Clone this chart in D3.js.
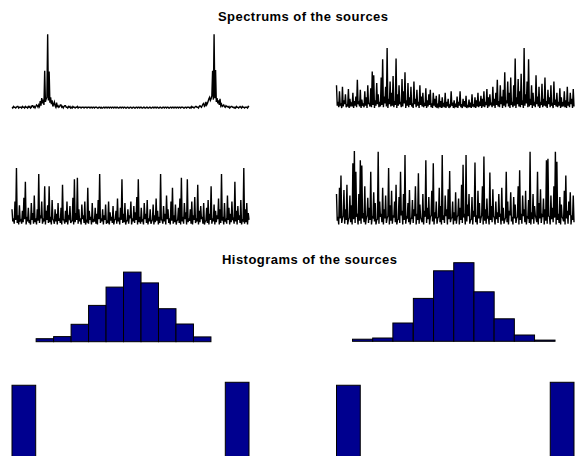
<!DOCTYPE html>
<html>
<head>
<meta charset="utf-8">
<script src="https://d3js.org/d3.v7.min.js"></script>
<style>
  body { margin: 0; background: #fff; }
  svg { display: block; }
  .title { font-family: "Liberation Sans", Arial, sans-serif; font-weight: bold; font-size: 13px; }
</style>
</head>
<body>
<div id="chart"></div>
<script>
// spectrum magnitudes, in % of the panel height
var spec1 = [1,0, 2,1, 1,0, 1,2, 2,0, 1,1, 1,0, 2,1, 1,0, 2,1,
  1,0, 2,1, 2,0, 1,3, 3,1, 2,0, 2,4, 3,1, 4,2, 9,3,
  13,6, 11,4, 49,8, 12,14, 97,10, 48,7, 14,5, 10,2, 5,8, 3,1,
  7,2, 3,1, 2,4, 4,1, 2,0, 2,3, 3,1, 1,0, 2,1, 2,0,
  1,0, 2,1, 1,0, 1,1, 2,0, 1,1, 1,0, 1,1, 1,0, 1,1,
  1,0, 1,1, 1,0, 1,1, 0,1, 1,0, 1,1, 1,0, 0,1, 1,0,
  1,0, 0,1, 1,0, 1,1, 0,1, 1,0, 1,1, 0,1, 1,0, 1,1,
  0,1, 1,0, 0,1, 1,0, 1,1, 0,1, 1,0, 0,1, 1,0, 0,1,
  1,0, 0,1, 1,0, 0,1, 1,0, 1,1, 0,1, 1,0, 0,1, 1,0,
  0,1, 1,0, 0,1, 1,0, 0,1, 1,0, 1,1, 0,1, 1,0, 0,1,
  1,0, 0,1, 1,0, 1,1, 0,1, 1,0, 0,1, 1,0, 1,1, 0,1,
  1,0, 1,1, 0,1, 1,0, 1,1, 1,0, 0,1, 1,0, 1,1, 1,0,
  1,0, 2,1, 1,0, 1,2, 2,1, 1,0, 2,3, 2,1, 3,5, 6,2,
  3,8, 4,6, 9,12, 14,10, 12,16, 49,11, 97,13, 50,8, 13,6, 10,4,
  12,3, 5,2, 3,4, 2,1, 3,2, 2,1, 2,0, 1,2, 2,1, 1,0,
  1,0, 2,1, 1,0, 1,2, 1,0, 2,1, 1,0, 1,1, 1,0, 2,1];

var spec2 = [30,3, 8,1, 22,4, 5,0, 28,2, 10,5, 18,1, 4,3, 25,0, 12,4,
  6,2, 20,0, 9,3, 15,1, 37,5, 7,2, 24,0, 11,4, 5,1, 22,3,
  14,0, 30,6, 6,2, 26,1, 48,4, 43,0, 10,3, 33,5, 18,1, 8,2,
  40,4, 64,1, 15,6, 28,2, 79,0, 12,5, 35,2, 20,3, 42,1, 9,4,
  65,0, 18,3, 30,5, 8,1, 38,2, 22,6, 47,0, 10,3, 33,1, 14,4,
  28,2, 6,0, 35,5, 12,1, 24,3, 8,0, 30,4, 15,2, 20,1, 5,3,
  26,0, 10,2, 18,4, 24,1, 6,0, 20,3, 12,1, 16,0, 4,2, 18,1,
  9,0, 14,3, 5,1, 20,0, 8,2, 12,0, 3,1, 22,3, 7,0, 10,2,
  4,1, 15,0, 8,3, 22,1, 5,0, 12,2, 9,1, 16,0, 3,2, 11,1,
  7,0, 18,3, 4,1, 14,0, 10,2, 20,1, 6,3, 16,0, 12,2, 22,1,
  8,4, 25,0, 14,2, 18,5, 6,1, 28,3, 12,0, 20,4, 37,2, 9,1,
  30,5, 15,0, 24,3, 47,1, 10,6, 35,2, 20,0, 40,4, 8,1, 30,3,
  65,0, 14,5, 38,2, 22,1, 45,4, 10,0, 79,3, 18,6, 35,1, 64,2,
  12,4, 30,0, 20,3, 8,1, 43,5, 15,2, 28,0, 6,4, 32,1, 12,3,
  40,2, 9,0, 24,5, 14,1, 30,3, 5,0, 35,4, 11,2, 20,1, 8,3,
  26,0, 14,2, 6,4, 22,1, 10,0, 28,3, 8,1, 20,5, 12,0, 25,2];

var spec3 = [20,4, 8,1, 30,6, 74,2, 12,0, 25,5, 6,1, 18,3, 35,7, 56,0,
  10,4, 22,2, 4,0, 28,6, 15,1, 38,3, 8,0, 20,5, 66,2, 12,8,
  30,1, 6,4, 50,0, 18,6, 25,2, 50,3, 10,0, 32,7, 5,1, 20,4,
  14,0, 28,5, 8,2, 22,0, 52,6, 6,1, 18,3, 30,0, 10,8, 24,2,
  4,5, 35,0, 59,3, 15,6, 61,1, 20,4, 8,0, 26,7, 12,2, 30,0,
  5,4, 48,1, 18,6, 10,0, 28,3, 6,5, 22,1, 14,0, 32,7, 66,2,
  8,4, 20,0, 12,6, 26,1, 4,3, 30,0, 16,5, 10,2, 24,0, 6,7,
  18,1, 34,4, 9,0, 22,6, 59,2, 14,3, 28,0, 5,5, 20,1, 12,8,
  30,0, 8,4, 24,2, 16,6, 36,0, 59,3, 10,1, 22,5, 6,0, 28,7,
  14,2, 32,0, 8,4, 20,1, 4,6, 26,0, 12,3, 34,5, 18,0, 10,2,
  66,6, 6,1, 24,4, 14,0, 38,7, 20,2, 8,0, 30,5, 48,1, 12,3,
  26,0, 5,6, 22,2, 34,0, 61,4, 10,1, 28,7, 16,0, 59,3, 8,5,
  20,1, 30,0, 12,6, 36,2, 6,4, 52,0, 18,3, 24,7, 10,1, 28,0,
  4,5, 22,2, 32,0, 14,6, 50,1, 8,4, 26,0, 18,3, 12,7, 34,0,
  20,2, 66,5, 10,0, 28,4, 6,1, 38,6, 22,0, 14,3, 30,7, 8,1,
  56,4, 18,0, 24,6, 12,2, 32,0, 6,5, 74,1, 20,3, 28,0, 15,6];

var spec4 = [40,5, 10,0, 48,8, 64,2, 8,11, 45,1, 20,6, 52,0, 6,9, 38,3,
  25,0, 80,7, 96,2, 69,10, 12,0, 40,5, 84,1, 77,8, 15,3, 50,0,
  8,12, 35,2, 22,6, 69,0, 10,9, 42,4, 28,0, 6,7, 95,1, 30,10,
  14,3, 48,0, 20,8, 38,2, 8,11, 74,0, 25,5, 44,1, 12,9, 30,3,
  52,0, 6,7, 36,2, 69,12, 18,0, 40,6, 91,1, 10,9, 28,3, 45,0,
  8,8, 32,2, 20,11, 50,0, 14,6, 67,1, 26,9, 6,3, 40,0, 18,10,
  84,2, 22,7, 36,0, 10,12, 44,4, 80,0, 16,8, 30,1, 8,10, 48,3,
  24,0, 91,6, 12,2, 38,11, 20,0, 46,7, 70,3, 8,9, 30,0, 16,5,
  42,1, 10,12, 34,0, 22,6, 52,2, 78,9, 14,0, 91,4, 26,11, 40,1,
  6,7, 36,0, 18,10, 81,3, 12,0, 44,8, 28,2, 8,12, 50,0, 89,5,
  20,1, 34,9, 10,0, 68,6, 24,3, 46,11, 8,0, 30,7, 16,2, 40,10,
  12,0, 48,5, 22,1, 6,9, 69,3, 30,0, 18,12, 42,4, 10,0, 36,8,
  26,2, 8,10, 50,0, 71,6, 14,1, 38,11, 20,3, 44,0, 10,9, 32,2,
  95,0, 16,7, 40,1, 24,12, 8,3, 69,0, 28,8, 46,2, 12,10, 34,0,
  20,5, 84,1, 86,11, 10,0, 38,7, 22,3, 50,9, 95,0, 82,6, 14,2,
  36,0, 26,10, 8,4, 44,0, 64,8, 18,1, 30,12, 42,0, 12,6, 38,3];

// histograms: bin centres and counts
var bins1   = [-2.89,-2.30,-1.71,-1.12,-0.53,0.06,0.65,1.24,1.83,2.42];
var counts1 = [10,17,58,121,182,232,196,110,59,16];
var bins2   = [-3.12,-2.44,-1.76,-1.07,-0.39,0.29,0.97,1.65,2.33,3.02];
var counts2 = [7,11,61,143,235,262,165,75,21,4];
var bins3   = [-0.9,-0.7,-0.5,-0.3,-0.1,0.1,0.3,0.5,0.7,0.9];
var counts3 = [490,0,0,0,0,0,0,0,0,510];
var bins4   = [-0.9,-0.7,-0.5,-0.3,-0.1,0.1,0.3,0.5,0.7,0.9];
var counts4 = [490,0,0,0,0,0,0,0,0,510];

var titles = ["Spectrums of the sources", "Histograms of the sources"];

var W = 583, H = 456;

var svg = d3.select("#chart").append("svg")
  .attr("width", W)
  .attr("height", H);

svg.append("text")
  .attr("class", "title")
  .attr("x", 303)
  .attr("y", 21)
  .attr("text-anchor", "middle")
  .attr("textLength", 170)
  .attr("lengthAdjust", "spacing")
  .text(titles[0]);

svg.append("text")
  .attr("class", "title")
  .attr("x", 309.5)
  .attr("y", 264)
  .attr("text-anchor", "middle")
  .attr("textLength", 175)
  .attr("lengthAdjust", "spacing")
  .text(titles[1]);

// axes boxes
var cols = [[12, 249], [336.5, 574]];
var specRows = [[108, 32], [224.5, 148]];

var spectra = [
  {data: spec1, col: 0, row: 0},
  {data: spec2, col: 1, row: 0},
  {data: spec3, col: 0, row: 1},
  {data: spec4, col: 1, row: 1}
];

spectra.forEach(function(p) {
  var x = d3.scaleLinear()
    .domain([0, p.data.length - 1])
    .range(cols[p.col]);
  var y = d3.scaleLinear()
    .domain([0, 100])
    .range(specRows[p.row]);

  var line = d3.line()
    .x(function(d, i) { return x(i); })
    .y(function(d) { return y(d); });

  svg.append("path")
    .datum(p.data)
    .attr("d", line)
    .attr("fill", "none")
    .attr("stroke", "#000")
    .attr("stroke-width", 1.4);
});

var hists = [
  {bins: bins1, counts: counts1, col: 0, xd: [-4, 4], yd: [0, 270], base: 341.7, h: 81, w: 0.591},
  {bins: bins2, counts: counts2, col: 1, xd: [-4, 4], yd: [0, 270], base: 341.3, h: 81, w: 0.682},
  {bins: bins3, counts: counts3, col: 0, xd: [-1, 1], yd: [0, 520], base: 458, h: 77.2, w: 0.2},
  {bins: bins4, counts: counts4, col: 1, xd: [-1, 1], yd: [0, 520], base: 458, h: 77.2, w: 0.2}
];

hists.forEach(function(p) {
  var x = d3.scaleLinear()
    .domain(p.xd)
    .range(cols[p.col]);
  var y = d3.scaleLinear()
    .domain(p.yd)
    .range([p.base, p.base - p.h]);

  svg.append("g")
    .selectAll("rect")
    .data(p.counts)
    .enter()
    .append("rect")
    .attr("x", function(d, i) { return x(p.bins[i] - p.w / 2); })
    .attr("width", function(d, i) { return x(p.bins[i] + p.w / 2) - x(p.bins[i] - p.w / 2); })
    .attr("y", function(d) { return y(d); })
    .attr("height", function(d) { return y(0) - y(d); })
    .attr("fill", "#00008f")
    .attr("stroke", "#000")
    .attr("stroke-width", 1);
});
</script>
</body>
</html>
